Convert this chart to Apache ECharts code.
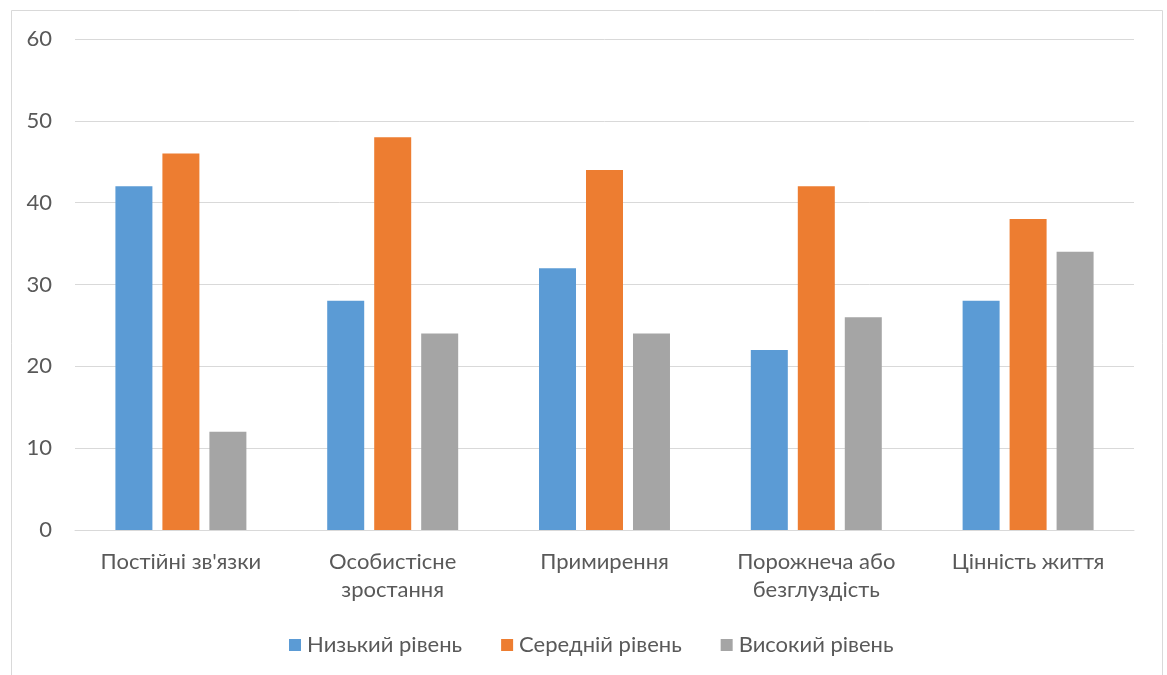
<!DOCTYPE html>
<html>
<head>
<meta charset="utf-8">
<script src="https://cdn.jsdelivr.net/npm/echarts@6/dist/echarts.min.js"></script>
<style>
  html, body { margin: 0; padding: 0; background: #ffffff; }
  #chart { width: 1167px; height: 675px; }
</style>
</head>
<body>
<div id="chart"></div>
<script>
// Scale categories (two long names wrap onto a second line)
const categories = [
  "Постійні зв'язки",
  "Особистісне\nзростання",
  "Примирення",
  "Порожнеча або\nбезглуздість",
  "Цінність життя"
];
const seriesNames = ["Низький рівень", "Середній рівень", "Високий рівень"];
const lowLevel = [42, 28, 32, 22, 28];
const midLevel = [46, 48, 44, 42, 38];
const highLevel = [12, 24, 24, 26, 34];
const yTicks = { min: 0, max: 60, interval: 10 };

const colors = ["#5B9BD5", "#ED7D31", "#A5A5A5"];
const textColor = "#595959";
const fontFamily = "Lato, 'Open Sans', sans-serif";
const fontSize = 22;

const chart = echarts.init(document.getElementById("chart"), null, { renderer: "canvas" });

const values = [lowLevel, midLevel, highLevel];

chart.setOption({
  animation: false,
  backgroundColor: "#ffffff",
  textStyle: { fontFamily: fontFamily, color: textColor },
  graphic: [{
    type: "rect",
    shape: { x: 11.5, y: 10.5, width: 1151, height: 700 },
    style: { fill: "none", stroke: "#d9d9d9", lineWidth: 1 },
    silent: true
  }],
  grid: { left: 75, right: 33, top: 39, bottom: 145, containLabel: false },
  legend: {
    top: 629,
    left: 284,
    itemWidth: 12,
    itemHeight: 12,
    itemGap: 39,
    icon: "rect",
    textStyle: { fontSize: fontSize, color: textColor, fontFamily: fontFamily, padding: [0, 0, 0, 1] },
    data: seriesNames
  },
  xAxis: {
    type: "category",
    data: categories,
    axisLine: { show: true, lineStyle: { color: "#d9d9d9", width: 1 } },
    axisTick: { show: false },
    axisLabel: {
      interval: 0,
      margin: 18,
      fontSize: fontSize,
      lineHeight: 28,
      color: textColor,
      fontFamily: fontFamily
    }
  },
  yAxis: {
    type: "value",
    min: yTicks.min,
    max: yTicks.max,
    interval: yTicks.interval,
    axisLine: { show: false },
    axisTick: { show: false },
    splitLine: { lineStyle: { color: "#d9d9d9", width: 1 } },
    axisLabel: { margin: 23, fontSize: fontSize, color: textColor, fontFamily: fontFamily }
  },
  series: seriesNames.map((name, i) => ({
    name: name,
    type: "bar",
    data: values[i],
    barWidth: 37,
    barGap: "27%",
    itemStyle: { color: colors[i] }
  }))
});
</script>
</body>
</html>
